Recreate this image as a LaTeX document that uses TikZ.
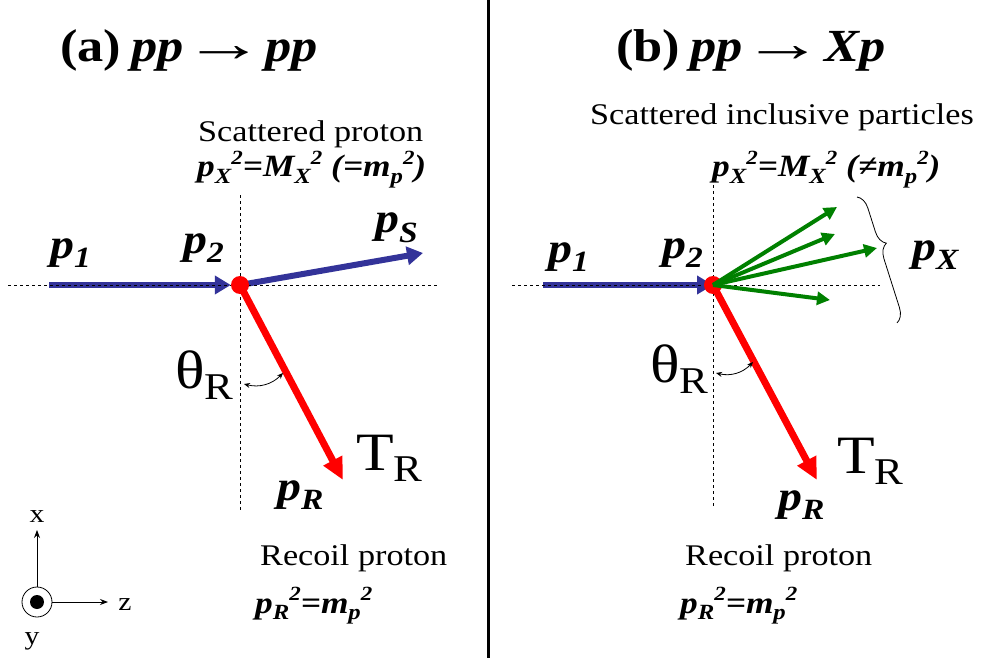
\documentclass[tikz,border=0pt]{standalone}
\usepackage{fontspec}
\setmainfont{Liberation Serif}[FakeStretch=1.14]
\usepackage{graphicx}
\usetikzlibrary{arrows.meta,decorations.pathreplacing}
\definecolor{pblue}{RGB}{51,51,153}
\definecolor{pgreen}{RGB}{0,128,0}
\newcommand\lo[1]{\raisebox{-0.22em}{\scalebox{0.7}{#1}}}
\newcommand\hi[1]{\raisebox{0.4em}{\scalebox{0.65}{#1}}}
\newcommand\bigarr{\raisebox{0.02em}{\scalebox{1.55}[1.15]{→}}}
\pgfdeclarelayer{bg}
\pgfsetlayers{bg,main}
\begin{document}
\begin{tikzpicture}[x=1pt,y=-1pt,
 lbl/.style={inner sep=0pt, anchor=base west},
 ttl/.style={lbl,font=\fontsize{46}{50}\selectfont\bfseries},
 txt/.style={lbl,font=\fontsize{30}{32}\selectfont},
 mom/.style={lbl,font=\fontsize{42}{44}\selectfont\bfseries\itshape},
 frm/.style={lbl,font=\fontsize{31}{33}\selectfont\bfseries\itshape},
 big/.style={lbl,font=\fontsize{54}{56}\selectfont},
 axl/.style={inner sep=0pt,font=\fontsize{26}{28}\selectfont},
 guide/.style={dash pattern=on 3pt off 3pt, line width=0.8pt},
 beam/.style={pblue, line width=6pt, -{Triangle[length=16pt,width=18pt]}},
 recoil/.style={red, line width=7pt, -{Triangle[length=22pt,width=20pt]}},
 incl/.style={pgreen, line width=4pt, -{Triangle[length=13pt,width=13pt]}},
 ang/.style={line width=0.8pt, {Stealth[length=6pt,width=5pt]}-{Stealth[length=6pt,width=5pt]}},
 axarr/.style={line width=0.8pt, -{Stealth[length=8pt,width=6pt]}},
 vtx/.style={circle, fill=red, minimum size=18pt, inner sep=0pt}
]
\useasboundingbox (0,0) rectangle (983,658);

% separator
\draw[line width=3pt] (488,0) -- (488,658);

% ---------------- panel (a) ----------------
\node[ttl] (ta) at (60,62) {(a)\kern0.22em\textit{pp}\bigarr\textit{pp}};
\node[txt] (sa) at (198,142) {Scattered proton};
\node[frm] (fa) at (197,177) {p\lo{X}\hi{2}=M\lo{X}\hi{2} (=m\lo{p}\hi{2})};

\coordinate (ahl) at (8,285);
\coordinate (ahr) at (437,285);
\coordinate (avt) at (240,195);
\coordinate (avb) at (240,510);
\draw[guide] (ahl) -- (ahr);
\draw[guide] (avt) -- (avb);

\node[vtx] (av) at (240,285) {};
\coordinate (a1) at (49,285);
\coordinate (aS) at (423,253);
\coordinate (aR) at (343,480);
\begin{pgfonlayer}{bg}
\draw[beam] (a1) -- (av.west);
\draw[beam] (av.center) -- (aS);
\draw[recoil] (av.center) -- (aR);
\end{pgfonlayer}

\node[mom] (ap1) at (50,258) {p\lo{1}};
\node[mom] (ap2) at (183,253) {p\lo{2}};
\node[mom] (apS) at (375,233) {p\lo{S}};
\node[mom] (apR) at (277,500) {p\lo{R}};
\node[big] (aT) at (356,470) {T\lo{R}};
\node[big] (ath) at (175,388) {θ\lo{R}};

\coordinate (aa1) at (244,384);
\coordinate (aa2) at (283,373);
\draw[ang] (aa1) to[bend right=30] (aa2);

\node[txt] (ra) at (260,565) {Recoil proton};
\node[frm] (rfa) at (255,613) {p\lo{R}\hi{2}=m\lo{p}\hi{2}};

% axes
\node[circle, draw, line width=0.8pt, minimum size=30pt, inner sep=0pt] (ax) at (37,602) {};
\fill (ax.center) circle (7pt);
\coordinate (axx) at (37,530);
\coordinate (axz) at (108,602);
\draw[axarr] (ax.north) -- (axx);
\draw[axarr] (ax.east) -- (axz);
\node[axl] (lx) at (37,517) {x};
\node[axl] (lz) at (125,605) {z};
\node[axl] (ly) at (32,641) {y};

% ---------------- panel (b) ----------------
\node[ttl] (tb) at (616,62) {(b)\kern0.22em\textit{pp}\bigarr\textit{Xp}};
\node[txt] (sb) at (590,125) {Scattered inclusive particles};
\node[frm] (fb) at (712,177) {p\lo{X}\hi{2}=M\lo{X}\hi{2} (≠m\lo{p}\hi{2})};

\coordinate (bhl) at (512,285);
\coordinate (bhr) at (880,285);
\coordinate (bvt) at (713,185);
\coordinate (bvb) at (713,508);
\draw[guide] (bhl) -- (bhr);
\draw[guide] (bvt) -- (bvb);

\node[vtx] (bv) at (713,285) {};
\coordinate (b1) at (543,285);
\coordinate (bR) at (817,480);
\coordinate (g1) at (837,207);
\coordinate (g2) at (835,234);
\coordinate (g3) at (877,248);
\coordinate (g4) at (830,300);
\begin{pgfonlayer}{bg}
\draw[beam] (b1) -- (bv.center);
\draw[recoil] (bv.center) -- (bR);
\end{pgfonlayer}
\draw[incl] (bv.center) -- (g1);
\draw[incl] (bv.center) -- (g2);
\draw[incl] (bv.center) -- (g3);
\draw[incl] (bv.center) -- (g4);

\coordinate (bt) at (857,197);
\coordinate (bb) at (897,323);
\draw[line width=0.8pt, decorate, decoration={brace, amplitude=14pt, aspect=0.4}] (bt) -- (bb);

\node[mom] (bp1) at (548,262) {p\lo{1}};
\node[mom] (bp2) at (662,258) {p\lo{2}};
\node[mom] (bpX) at (912,260) {p\lo{X}};
\node[mom] (bpR) at (778,510) {p\lo{R}};
\node[big] (bT) at (837,473) {T\lo{R}};
\node[big] (bth) at (650,382) {θ\lo{R}};

\coordinate (ba1) at (716,373);
\coordinate (ba2) at (753,362);
\draw[ang] (ba1) to[bend right=30] (ba2);

\node[txt] (rb) at (685,565) {Recoil proton};
\node[frm] (rfb) at (680,613) {p\lo{R}\hi{2}=m\lo{p}\hi{2}};
\end{tikzpicture}
\end{document}
